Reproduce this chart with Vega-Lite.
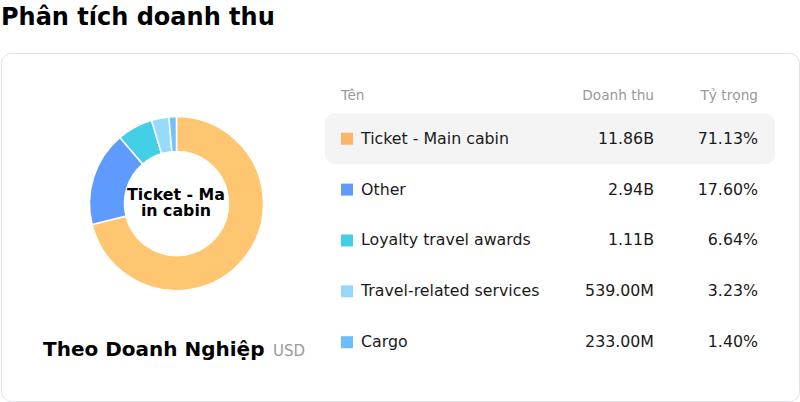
{
  "$schema": "https://vega.github.io/schema/vega-lite/v6.json",
  "width": 800,
  "height": 402,
  "autosize": {"type": "fit", "contains": "padding"},
  "padding": {"left": 1, "right": 1, "top": 5, "bottom": 1},
  "background": "#ffffff",
  "title": {
    "text": "Phân tích doanh thu",
    "anchor": "start",
    "fontSize": 24,
    "fontWeight": "bold",
    "font": "DejaVu Sans",
    "color": "#000000",
    "offset": 23.5
  },
  "data": {
    "values": [
      {"name": "Ticket - Main cabin", "revenue": 11860000000, "share": 0.7113},
      {"name": "Other", "revenue": 2940000000, "share": 0.176},
      {"name": "Loyalty travel awards", "revenue": 1110000000, "share": 0.0664},
      {"name": "Travel-related services", "revenue": 539000000, "share": 0.0323},
      {"name": "Cargo", "revenue": 233000000, "share": 0.014}
    ]
  },
  "transform": [
    {
      "calculate": "datum.revenue >= 1e9 ? format(datum.revenue / 1e9, '.2f') + 'B' : format(datum.revenue / 1e6, '.2f') + 'M'",
      "as": "revenue_label"
    }
  ],
  "resolve": {"scale": {"y": "independent"}},
  "layer": [
    {
      "layer": [
        {
          "mark": {
            "type": "arc",
            "radius": 87,
            "radius2": 52,
            "stroke": "#ffffff",
            "strokeWidth": 1.5
          },
          "encoding": {
            "theta": {"field": "share", "type": "quantitative"},
            "order": {"field": "share", "sort": "descending"},
            "fill": {
              "field": "name",
              "type": "nominal",
              "legend": null,
              "scale": {
                "domain": ["Ticket - Main cabin", "Other", "Loyalty travel awards", "Travel-related services", "Cargo"],
                "range": ["#ffc671", "#5f9bff", "#43cfe6", "#98dafc", "#74c0fb"]
              }
            },
            "x": {"datum": 176.5, "type": "quantitative", "scale": {"domain": [1, 799], "nice": false, "zero": false}, "axis": null},
            "y": {"datum": 203, "type": "quantitative", "scale": {"domain": [52, 401], "nice": false, "zero": false, "reverse": true}, "axis": null}
          }
        },
        {
          "transform": [
            {"filter": "datum.share > 0.5"},
            {"calculate": "[substring(datum.name, 0, 11), substring(datum.name, 11)]", "as": "center_label"}
          ],
          "mark": {
            "type": "text",
            "font": "DejaVu Sans",
            "fontSize": 15.8,
            "fontWeight": "bold",
            "lineHeight": 16,
            "align": "center",
            "baseline": "alphabetic",
            "color": "#000000"
          },
          "encoding": {
            "text": {"field": "center_label"},
            "x": {"datum": 176, "type": "quantitative"},
            "y": {"datum": 199, "type": "quantitative"}
          }
        },
        {
          "data": {"values": [{"label": "Theo Doanh Nghiệp"}]},
          "mark": {
            "type": "text",
            "font": "DejaVu Sans",
            "fontSize": 20,
            "fontWeight": "bold",
            "align": "left",
            "baseline": "alphabetic",
            "color": "#000000"
          },
          "encoding": {
            "text": {"field": "label"},
            "x": {"datum": 43, "type": "quantitative"},
            "y": {"datum": 356, "type": "quantitative"}
          }
        },
        {
          "data": {"values": [{"label": "USD"}]},
          "mark": {
            "type": "text",
            "font": "DejaVu Sans",
            "fontSize": 15,
            "align": "left",
            "baseline": "alphabetic",
            "color": "#999999"
          },
          "encoding": {
            "text": {"field": "label"},
            "x": {"datum": 273, "type": "quantitative"},
            "y": {"datum": 356, "type": "quantitative"}
          }
        },
        {
          "data": {"values": [{"label": "Tên"}]},
          "mark": {"type": "text", "font": "DejaVu Sans", "fontSize": 13.7, "align": "left", "baseline": "middle", "color": "#999999"},
          "encoding": {
            "text": {"field": "label"},
            "x": {"datum": 341, "type": "quantitative"},
            "y": {"datum": 95, "type": "quantitative"}
          }
        },
        {
          "data": {"values": [{"label": "Doanh thu"}]},
          "mark": {"type": "text", "font": "DejaVu Sans", "fontSize": 13.7, "align": "right", "baseline": "middle", "color": "#999999"},
          "encoding": {
            "text": {"field": "label"},
            "x": {"datum": 654, "type": "quantitative"},
            "y": {"datum": 95, "type": "quantitative"}
          }
        },
        {
          "data": {"values": [{"label": "Tỷ trọng"}]},
          "mark": {"type": "text", "font": "DejaVu Sans", "fontSize": 13.7, "align": "right", "baseline": "middle", "color": "#999999"},
          "encoding": {
            "text": {"field": "label"},
            "x": {"datum": 758, "type": "quantitative"},
            "y": {"datum": 95, "type": "quantitative"}
          }
        }
      ]
    },
    {
      "encoding": {
        "y": {
          "field": "name",
          "type": "nominal",
          "axis": null,
          "scale": {
            "domain": ["Ticket - Main cabin", "Other", "Loyalty travel awards", "Travel-related services", "Cargo"],
            "paddingInner": 0,
            "paddingOuter": 0.9216,
            "align": 0.6436
          }
        }
      },
      "layer": [
        {
          "transform": [{"filter": "datum.share > 0.5"}],
          "mark": {"type": "rect", "fill": "#f4f4f4", "cornerRadius": 10},
          "encoding": {
            "x": {"datum": 325, "type": "quantitative"},
            "x2": {"datum": 775}
          }
        },
        {
          "mark": {"type": "point", "shape": "square", "size": 144, "filled": true, "opacity": 1},
          "encoding": {
            "x": {"datum": 347, "type": "quantitative"},
            "color": {
              "field": "name",
              "type": "nominal",
              "legend": null,
              "scale": {
                "domain": ["Ticket - Main cabin", "Other", "Loyalty travel awards", "Travel-related services", "Cargo"],
                "range": ["#fdb567", "#5f9bff", "#42cfe5", "#97d8fa", "#6dbdf9"]
              }
            }
          }
        },
        {
          "mark": {"type": "text", "font": "DejaVu Sans", "fontSize": 15.8, "align": "left", "baseline": "middle", "color": "#1a1a1a"},
          "encoding": {
            "x": {"datum": 361, "type": "quantitative"},
            "text": {"field": "name"}
          }
        },
        {
          "mark": {"type": "text", "font": "DejaVu Sans", "fontSize": 15.8, "align": "right", "baseline": "middle", "color": "#1a1a1a"},
          "encoding": {
            "x": {"datum": 654, "type": "quantitative"},
            "text": {"field": "revenue_label"}
          }
        },
        {
          "mark": {"type": "text", "font": "DejaVu Sans", "fontSize": 15.8, "align": "right", "baseline": "middle", "color": "#1a1a1a"},
          "encoding": {
            "x": {"datum": 758, "type": "quantitative"},
            "text": {"field": "share", "format": ".2%"}
          }
        }
      ]
    }
  ],
  "config": {
    "view": {"stroke": "#e2e1ea", "strokeWidth": 1, "cornerRadius": 10, "fill": "#ffffff"},
    "axis": {"disable": true}
  }
}
